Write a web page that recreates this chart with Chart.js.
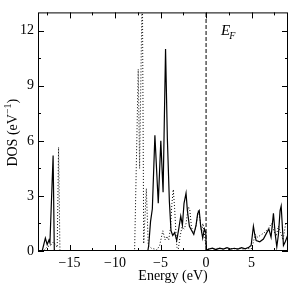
<!DOCTYPE html>
<html>
<head>
<meta charset="utf-8">
<script src="https://cdn.jsdelivr.net/npm/chart.js@4.4.0/dist/chart.umd.min.js"></script>
<style>
  html, body { margin: 0; padding: 0; background: #fff; }
  #wrap { width: 290px; height: 284px; }
</style>
</head>
<body>
<div id="wrap"><canvas id="dos" width="290" height="284"></canvas></div>
<script>
// total DOS, solid curve
const solidEnergy = [
  -18.46, -18.0, -17.65, -17.45, -17.25, -17.15, -16.8, -16.67, -16.55,
  -6.4, -6.3, -6.1, -5.9, -5.62, -5.25, -4.97, -4.72, -4.45, -4.25, -4.03, -3.85,
  -3.66, -3.45, -3.22, -3.0, -2.78, -2.6, -2.42, -2.2, -2.05, -1.83, -1.57, -1.35,
  -1.1, -0.92, -0.75, -0.59, -0.37, -0.18, -0.03, 0.03,
  0.3, 0.7, 1.1, 1.5, 1.9, 2.3, 2.7, 3.1, 3.5, 3.9, 4.3, 4.7, 4.95,
  5.2, 5.35, 5.5, 5.9, 6.3, 6.67, 6.9, 7.14, 7.4, 7.6, 7.77, 7.95, 8.13, 8.25, 8.5, 8.7, 9.0
];
const solidDos = [
  0, 0, 0.7, 0.35, 0.6, 0.45, 5.2, 0.05, 0,
  0, 0.3, 1.6, 2.3, 6.3, 2.6, 6.0, 3.2, 11.0, 6.1, 2.7, 1.1,
  0.85, 1.0, 0.57, 1.2, 1.9, 1.4, 2.6, 3.15, 2.2, 1.35, 1.1, 0.9,
  1.4, 2.05, 2.2, 1.35, 0.7, 1.2, 1.0, 0.05,
  0.1, 0.15, 0.08, 0.15, 0.1, 0.18, 0.1, 0.15, 0.1, 0.18, 0.12, 0.2, 0.3,
  1.35, 0.9, 0.57, 0.5, 0.65, 1.0, 1.2, 0.75, 2.05, 0.9, 0.23, 0.9, 2.2, 2.45, 0.3, 0.5, 0.9
];

// partial DOS, dotted curve
const dottedEnergy = [
  -18.46, -17.9, -17.5, -17.0, -16.75, -16.5, -16.35, -16.2, -16.05,
  -7.85, -7.45, -7.3, -7.0, -6.85, -6.56, -6.35, -6.0, -5.6, -5.4, -5.1, -4.75, -4.5,
  -4.3, -4.1, -3.9, -3.75, -3.6, -3.45, -3.3, -3.2, -3.05, -2.85, -2.65, -2.4, -2.2,
  -1.95, -1.8, -1.6, -1.4, -1.2, -1.0, -0.84, -0.66, -0.5, -0.35, -0.2, -0.05, 0.05,
  0.5, 0.9, 1.3, 1.7, 2.1, 2.5, 2.9, 3.3, 3.7, 4.1, 4.5, 4.95,
  5.1, 5.4, 5.6, 5.8, 6.1, 6.4, 6.8, 7.2, 7.45, 7.7, 7.95, 8.2, 8.45, 8.75, 9.0
];
const dottedDos = [
  0, 0, 0.2, 0.35, 0.5, 0.3, 0.2, 5.65, 0,
  0, 9.9, 4.5, 15, 0.4, 3.4, 0.3, 0.15, 0.1, 0.05, 0.3, 1.1, 0.6,
  0.8, 0.6, 1.3, 2.6, 3.35, 2.3, 0.9, 0.2, 0.1, 0.8, 1.3, 1.2, 1.5,
  2.4, 2.3, 1.3, 1.0, 1.1, 1.7, 2.25, 1.7, 1.0, 1.5, 1.0, 0.4, 0.05,
  0.15, 0.08, 0.15, 0.1, 0.15, 0.08, 0.15, 0.1, 0.15, 0.1, 0.15, 0.1,
  0.3, 0.9, 0.75, 0.8, 0.9, 1.0, 1.2, 1.5, 1.1, 0.8, 1.35, 1.0, 0.6, 1.5, 1.6
];

const fermiLevel = 0;
const xRange = [-18.46, 9.0];
const yRange = [0, 13];
const xStep = 2.5, xLabelEvery = 5;
const yStep = 1.5, yLabelEvery = 3;

const serif = "'Liberation Serif', 'DejaVu Serif', serif";
const toPoints = (xs, ys) => xs.map((e, i) => ({ x: e, y: ys[i] }));
const minus = v => (v < 0 ? '\u2212' + Math.abs(v) : String(v));

// box, inward ticks on all four sides, axis titles and the E_F mark
const frame = {
  id: 'frame',
  afterDraw(chart) {
    const { ctx, chartArea: a, scales: { x, y } } = chart;
    ctx.save();
    ctx.strokeStyle = '#000';
    ctx.lineWidth = 1;
    ctx.strokeRect(a.left + 0.5, a.top + 0.5, a.right - a.left - 1, a.bottom - a.top - 1);

    ctx.beginPath();
    x.ticks.forEach(t => {
      const px = Math.round(x.getPixelForValue(t.value)) + 0.5;
      const len = t.label ? 6 : 3;
      ctx.moveTo(px, a.bottom); ctx.lineTo(px, a.bottom - len);
      ctx.moveTo(px, a.top); ctx.lineTo(px, a.top + len);
    });
    y.ticks.forEach(t => {
      const py = Math.round(y.getPixelForValue(t.value)) + 0.5;
      const len = t.label ? 6 : 3;
      ctx.moveTo(a.left, py); ctx.lineTo(a.left + len, py);
      ctx.moveTo(a.right, py); ctx.lineTo(a.right - len, py);
    });
    ctx.stroke();

    ctx.fillStyle = '#000';
    ctx.textBaseline = 'alphabetic';

    // x title
    ctx.font = '14px ' + serif;
    ctx.textAlign = 'center';
    ctx.fillText('Energy (eV)', (a.left + a.right) / 2 + 10, 280);

    // y title with superscript
    ctx.save();
    ctx.translate(17, (a.top + a.bottom) / 2 + 1);
    ctx.rotate(-Math.PI / 2);
    ctx.textAlign = 'left';
    const big = '14px ' + serif, small = '10px ' + serif;
    ctx.font = big; const w1 = ctx.measureText('DOS (eV').width;
    ctx.font = small; const w2 = ctx.measureText('\u22121').width;
    ctx.font = big; const w3 = ctx.measureText(')').width;
    let cx = -(w1 + w2 + w3) / 2;
    ctx.fillText('DOS (eV', cx, 0); cx += w1;
    ctx.font = small; ctx.fillText('\u22121', cx, -6); cx += w2;
    ctx.font = big; ctx.fillText(')', cx, 0);
    ctx.restore();

    // E_F
    const ex = x.getPixelForValue(1.65), ey = y.getPixelForValue(11.75);
    ctx.textAlign = 'left';
    ctx.font = 'italic 15px ' + serif;
    ctx.fillText('E', ex, ey);
    const ew = ctx.measureText('E').width;
    ctx.font = 'italic 10px ' + serif;
    ctx.fillText('F', ex + ew - 1, ey + 4);
    ctx.restore();
  }
};

new Chart(document.getElementById('dos'), {
  type: 'line',
  data: {
    datasets: [
      { data: toPoints(solidEnergy, solidDos), borderColor: '#000', borderWidth: 1.2, pointRadius: 0, tension: 0 },
      { data: toPoints(dottedEnergy, dottedDos), borderColor: '#000', borderWidth: 1, borderDash: [1, 2], pointRadius: 0, tension: 0 },
      { data: [{ x: fermiLevel, y: yRange[0] }, { x: fermiLevel, y: yRange[1] }], borderColor: '#000', borderWidth: 1, borderDash: [4, 2], pointRadius: 0 }
    ]
  },
  options: {
    responsive: false,
    animation: false,
    layout: { padding: { top: 2, right: 2, left: 0, bottom: 0 } },
    plugins: { legend: { display: false }, tooltip: { enabled: false } },
    scales: {
      x: {
        type: 'linear', min: xRange[0], max: xRange[1],
        grid: { display: false, drawTicks: false },
        border: { display: false },
        ticks: {
          stepSize: xStep, includeBounds: false, autoSkip: false, maxRotation: 0,
          padding: 4, color: '#000', font: { family: serif, size: 14 },
          callback: v => (v % xLabelEvery === 0 ? minus(v) : '')
        },
        afterFit: s => { s.height = 33; }
      },
      y: {
        type: 'linear', min: yRange[0], max: yRange[1],
        grid: { display: false, drawTicks: false },
        border: { display: false },
        ticks: {
          stepSize: yStep, includeBounds: false, autoSkip: false,
          padding: 4, color: '#000', font: { family: serif, size: 14 },
          callback: v => (v % yLabelEvery === 0 ? String(v) : '')
        },
        afterFit: s => { s.width = 38; }
      }
    }
  },
  plugins: [frame]
});
</script>
</body>
</html>
